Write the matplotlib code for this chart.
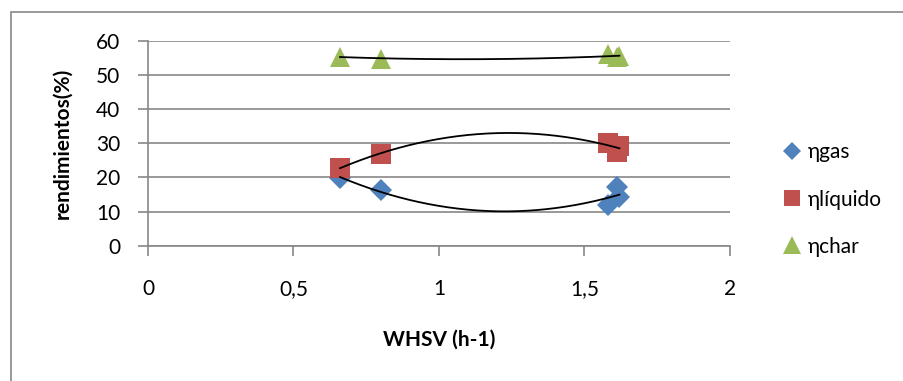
import numpy as np
import matplotlib
matplotlib.use("Agg")
import matplotlib.pyplot as plt
from matplotlib.patches import Rectangle

plt.rcParams['font.family'] = ['Lato', 'DejaVu Sans']

# WHSV (h-1) values for each run
whsv = [0.66, 0.80, 1.58, 1.61, 1.62]
gas = [19.8, 16.2, 12.0, 17.2, 14.4]
liquido = [22.8, 27.0, 30.1, 27.6, 29.1]
char = [55.4, 54.8, 56.1, 55.2, 55.6]

labels = ['ηgas', 'ηlíquido', 'ηchar']
colors = ['#4F81BD', '#C0504D', '#9BBB59']
markers = ['D', 's', '^']
sizes = [11, 14, 15]

x_ticks = [0, 0.5, 1, 1.5, 2]
x_ticklabels = ['0', '0,5', '1', '1,5', '2']
y_ticks = [0, 10, 20, 30, 40, 50, 60]

fig = plt.figure(figsize=(9.04, 3.81), dpi=100)
ax = fig.add_axes([148 / 904, 1 - 245.7 / 381, 582 / 904, 204.7 / 381])

grey = '#878787'
series = [gas, liquido, char]
for ys, lab, c, m, s in zip(series, labels, colors, markers, sizes):
    ax.plot(whsv, ys, linestyle='none', marker=m, markersize=s, color=c,
            markeredgewidth=0, label=lab, zorder=3, clip_on=False)

# 2nd order polynomial trendlines (as in Excel)
xs = np.linspace(min(whsv), max(whsv), 200)
for ys in series:
    coef = np.polyfit(whsv, ys, 2)
    ax.plot(xs, np.polyval(coef, xs), color='black', lw=1.3, zorder=4)

ax.set_xlim(0, 2)
ax.set_ylim(0, 60)
ax.set_xticks(x_ticks)
ax.set_xticklabels(x_ticklabels)
ax.set_yticks(y_ticks)
ax.yaxis.grid(True, color=grey, lw=1.2)
ax.set_axisbelow(True)
for side in ['top', 'right']:
    ax.spines[side].set_visible(False)
for side in ['left', 'bottom']:
    ax.spines[side].set_color(grey)
    ax.spines[side].set_linewidth(1.2)
ax.tick_params(axis='both', colors=grey, labelcolor='black', labelsize=15,
               length=7, width=1.2)
ax.tick_params(axis='x', pad=17)
ax.tick_params(axis='y', pad=13)

ax.set_xlabel('WHSV (h-1)', fontsize=15, fontweight='bold', labelpad=22)
ax.set_ylabel('rendimientos(%)', fontsize=15, fontweight='bold', labelpad=17)

leg = fig.legend(loc='upper left', bbox_to_anchor=(772 / 904, 1 - 132 / 381),
                 frameon=False, fontsize=15, handlelength=0.9,
                 handletextpad=0.3, labelspacing=1.3, borderpad=0)
for h, s in zip(leg.legend_handles, [9, 12, 13]):
    h.set_markersize(s)

# chart area border
fig.patches.append(Rectangle((10.5 / 904, -0.2), 1.2, 1 - 11.5 / 381 + 0.2,
                             transform=fig.transFigure, fill=False,
                             edgecolor=grey, lw=1.2))

fig.savefig('out.png', dpi=100)
